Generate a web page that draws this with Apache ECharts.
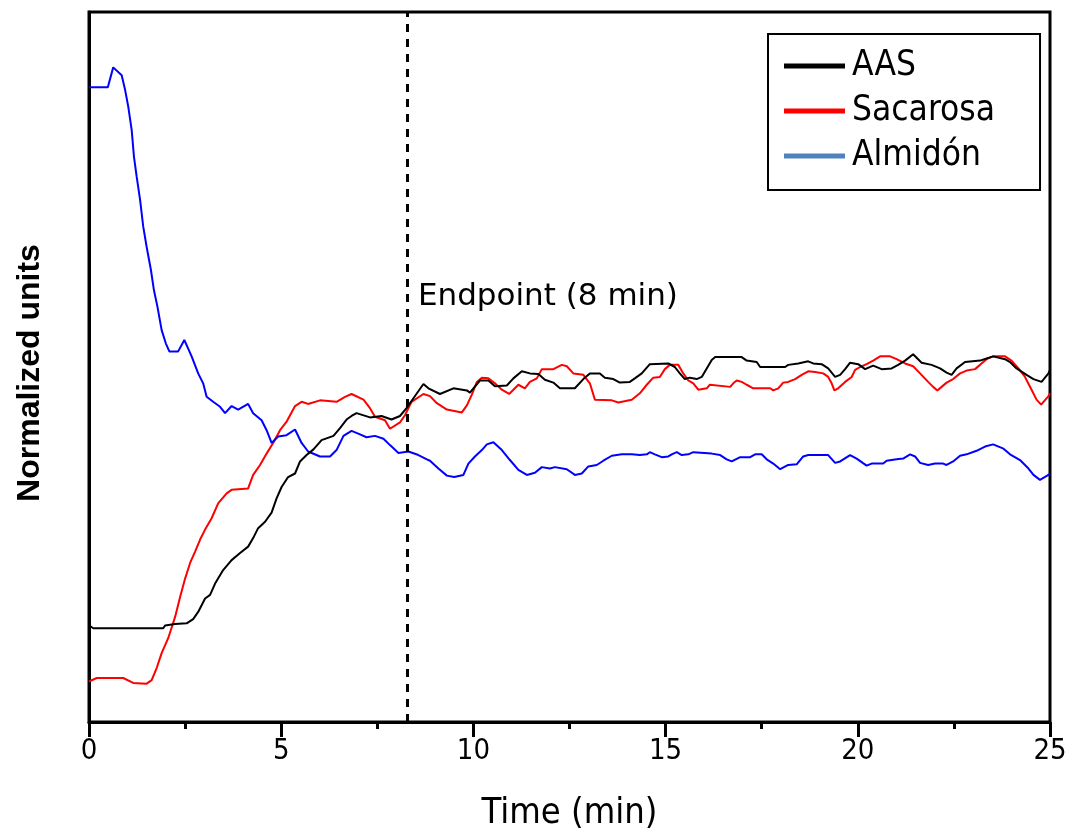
<!DOCTYPE html>
<html>
<head>
<meta charset="utf-8">
<title>Normalized units vs time</title>
<script src="https://cdn.jsdelivr.net/npm/echarts@6/dist/echarts.min.js"></script>
<style>
  html, body { margin: 0; padding: 0; background: #ffffff; }
  #chart { width: 1068px; height: 830px; }
</style>
</head>
<body>
<div id="chart"></div>
<script>
// Time axis (min) and normalized signal for each sample
const aasTime = [0, 0.11, 1.93, 1.98, 2.24, 2.54, 2.71, 2.84, 3.02, 3.15,
  3.28, 3.49, 3.71, 3.93, 4.14, 4.27, 4.40, 4.58, 4.75, 4.88,
  5.01, 5.18, 5.36, 5.49, 5.66, 5.84, 6.05, 6.36, 6.53, 6.70,
  6.83, 6.96, 7.31, 7.61, 7.87, 8.09, 8.26, 8.44, 8.70, 8.83,
  9.13, 9.48, 9.83, 9.91, 10.17, 10.39, 10.56, 10.87, 11.04, 11.26,
  11.47, 11.69, 11.86, 12.08, 12.25, 12.64, 12.86, 13.03, 13.29, 13.42,
  13.64, 13.81, 14.07, 14.20, 14.38, 14.59, 15.07, 15.24, 15.37, 15.50,
  15.63, 15.81, 15.94, 16.07, 16.20, 16.29, 16.98, 17.11, 17.37, 17.46,
  18.11, 18.19, 18.45, 18.71, 18.84, 19.06, 19.23, 19.41, 19.54, 19.67,
  19.80, 20.01, 20.19, 20.40, 20.62, 20.88, 21.05, 21.23, 21.44, 21.66,
  21.92, 22.14, 22.31, 22.44, 22.57, 22.79, 23.18, 23.35, 23.52, 23.83,
  23.96, 24.13, 24.39, 24.57, 24.78, 24.96, 25];
const aasValue = [13.6, 13.2, 13.2, 13.6, 13.8, 13.9, 14.5, 15.5, 17.4, 17.9,
  19.5, 21.4, 22.8, 23.8, 24.7, 25.9, 27.3, 28.2, 29.5, 31.5,
  33.1, 34.5, 35.0, 36.7, 37.6, 38.4, 39.7, 40.3, 41.4, 42.6,
  43.1, 43.5, 42.9, 43.1, 42.6, 43.1, 44.2, 45.6, 47.6, 47.0,
  46.2, 47.0, 46.7, 46.4, 48.1, 48.1, 47.3, 47.4, 48.4, 49.4,
  49.1, 49.0, 48.2, 47.8, 47.0, 47.0, 48.3, 49.1, 49.1, 48.5,
  48.3, 47.8, 47.9, 48.4, 49.1, 50.4, 50.5, 50.0, 49.1, 48.3,
  48.5, 48.3, 48.6, 49.8, 51.0, 51.4, 51.4, 50.9, 50.7, 50.0,
  50.0, 50.3, 50.5, 50.8, 50.5, 50.4, 49.8, 48.6, 48.9, 49.7,
  50.6, 50.4, 49.7, 50.2, 49.7, 49.8, 50.3, 50.9, 51.8, 50.6,
  50.3, 49.8, 49.2, 48.9, 49.8, 50.7, 50.9, 51.2, 51.5, 51.1,
  50.7, 49.8, 48.9, 48.3, 47.9, 49.1, 49.6];

const sacarosaTime = [0, 0.20, 0.89, 1.15, 1.50, 1.63, 1.76, 1.89, 2.06, 2.24,
  2.37, 2.50, 2.63, 2.76, 2.89, 3.02, 3.19, 3.36, 3.58, 3.71,
  4.14, 4.27, 4.45, 4.62, 4.79, 4.97, 5.14, 5.36, 5.53, 5.70,
  6.01, 6.44, 6.66, 6.83, 7.14, 7.31, 7.44, 7.70, 7.83, 8.09,
  8.22, 8.39, 8.70, 8.87, 9.05, 9.31, 9.70, 9.83, 9.96, 10.09,
  10.22, 10.39, 10.56, 10.74, 10.93, 11.17, 11.34, 11.47, 11.65, 11.78,
  12.08, 12.30, 12.43, 12.60, 12.86, 13.03, 13.16, 13.60, 13.77, 14.12,
  14.33, 14.38, 14.51, 14.68, 14.85, 14.98, 15.11, 15.33, 15.46, 15.59,
  15.72, 15.85, 16.07, 16.15, 16.68, 16.76, 16.85, 16.98, 17.11, 17.28,
  17.72, 17.80, 17.93, 18.06, 18.19, 18.37, 18.54, 18.71, 18.89, 19.10,
  19.23, 19.32, 19.39, 19.49, 19.67, 19.84, 19.93, 20.06, 20.23, 20.40,
  20.58, 20.84, 21.01, 21.23, 21.44, 21.62, 21.83, 21.96, 22.07, 22.18,
  22.31, 22.48, 22.66, 22.83, 23.05, 23.18, 23.35, 23.52, 23.83, 24.00,
  24.18, 24.35, 24.52, 24.65, 24.77, 24.96, 25];
const sacarosaValue = [5.7, 6.2, 6.2, 5.5, 5.4, 5.9, 7.6, 9.7, 11.8, 14.8,
  17.6, 20.2, 22.4, 24.0, 25.7, 27.1, 28.7, 30.8, 32.2, 32.7,
  32.9, 34.8, 36.2, 37.8, 39.3, 41.1, 42.3, 44.5, 45.1, 44.8,
  45.3, 45.1, 45.8, 46.2, 45.4, 44.2, 43.0, 42.5, 41.3, 42.2,
  43.2, 45.1, 46.2, 45.9, 44.9, 44.0, 43.6, 44.6, 46.1, 47.9,
  48.5, 48.4, 47.7, 46.8, 46.2, 47.5, 47.0, 47.9, 48.4, 49.7,
  49.7, 50.3, 50.1, 49.1, 48.9, 47.7, 45.4, 45.3, 45.0, 45.4,
  46.3, 46.5, 47.5, 48.5, 48.6, 49.7, 50.3, 50.3, 49.1, 48.1,
  47.7, 46.8, 47.0, 47.5, 47.2, 47.7, 48.1, 47.9, 47.5, 47.0,
  47.0, 46.7, 47.0, 47.8, 47.9, 48.3, 48.9, 49.4, 49.3, 49.1,
  48.6, 47.7, 46.7, 47.0, 47.9, 48.6, 49.6, 50.0, 50.4, 50.9,
  51.5, 51.5, 51.1, 50.5, 50.1, 49.1, 47.9, 47.2, 46.7, 47.2,
  47.8, 48.3, 49.1, 49.5, 49.7, 50.3, 51.1, 51.5, 51.5, 50.9,
  49.8, 48.6, 46.8, 45.4, 44.7, 45.9, 46.3];

const almidonTime = [0, 0.49, 0.63, 0.85, 0.94, 1.02, 1.11, 1.17, 1.24, 1.33,
  1.41, 1.50, 1.61, 1.69, 1.78, 1.89, 2.00, 2.09, 2.32, 2.48,
  2.58, 2.67, 2.84, 2.97, 3.06, 3.23, 3.41, 3.54, 3.71, 3.88,
  4.14, 4.27, 4.49, 4.62, 4.75, 4.92, 5.14, 5.36, 5.53, 5.70,
  6.01, 6.27, 6.44, 6.62, 6.83, 7.05, 7.22, 7.44, 7.66, 7.83,
  8.05, 8.31, 8.57, 8.79, 8.87, 9.09, 9.31, 9.50, 9.74, 9.87,
  10.04, 10.22, 10.35, 10.52, 10.74, 10.95, 11.17, 11.39, 11.60, 11.78,
  11.99, 12.12, 12.43, 12.64, 12.82, 12.99, 13.21, 13.38, 13.60, 13.86,
  14.12, 14.33, 14.51, 14.59, 14.72, 14.90, 15.07, 15.16, 15.29, 15.42,
  15.59, 15.72, 16.20, 16.42, 16.59, 16.72, 16.94, 17.20, 17.33, 17.50,
  17.63, 17.80, 17.98, 18.19, 18.41, 18.58, 18.71, 19.23, 19.41, 19.54,
  19.80, 19.97, 20.23, 20.36, 20.66, 20.75, 21.01, 21.18, 21.36, 21.49,
  21.62, 21.83, 22.01, 22.22, 22.31, 22.48, 22.66, 22.83, 23.09, 23.31,
  23.52, 23.79, 23.96, 24.22, 24.44, 24.57, 24.74, 24.96, 25];
const almidonValue = [89.4, 89.4, 92.2, 91.1, 89.0, 86.7, 83.4, 79.6, 76.8, 73.5,
  69.8, 66.9, 63.7, 60.8, 58.5, 55.2, 53.3, 52.2, 52.2, 53.8,
  52.6, 51.5, 49.1, 47.7, 45.8, 45.1, 44.4, 43.5, 44.5, 44.0,
  44.8, 43.5, 42.5, 41.1, 39.3, 40.2, 40.4, 41.2, 39.3, 38.1,
  37.4, 37.4, 38.3, 40.3, 41.0, 40.5, 40.1, 40.3, 39.9, 39.0,
  37.9, 38.1, 37.6, 37.0, 36.8, 35.7, 34.7, 34.5, 34.8, 36.4,
  37.4, 38.3, 39.1, 39.4, 38.3, 36.9, 35.5, 34.8, 35.1, 35.9,
  35.7, 35.9, 35.6, 34.8, 35.0, 36.0, 36.2, 36.8, 37.5, 37.7,
  37.7, 37.6, 37.7, 38.0, 37.7, 37.3, 37.4, 37.7, 38.0, 37.6,
  37.7, 38.0, 37.8, 37.6, 37.0, 36.7, 37.3, 37.3, 37.7, 37.7,
  37.0, 36.4, 35.6, 36.2, 36.3, 37.4, 37.6, 37.6, 36.5, 36.7,
  37.6, 37.1, 36.1, 36.4, 36.4, 36.8, 37.0, 37.1, 37.7, 37.4,
  36.5, 36.2, 36.4, 36.4, 36.2, 36.7, 37.5, 37.7, 38.2, 38.8,
  39.1, 38.5, 37.7, 36.9, 35.7, 34.8, 34.1, 34.8, 35.0];

const seriesNames = ['AAS', 'Sacarosa', 'Almidón'];
const endpointTime = 8.27;
const endpointText = 'Endpoint (8 min)';

const zip = (t, v) => t.map((x, i) => [x, v[i]]);

const narrow = "'Liberation Sans Narrow', 'DejaVu Sans Condensed', 'Liberation Sans', sans-serif";

const chart = echarts.init(document.getElementById('chart'), null, { renderer: 'canvas' });

chart.setOption({
  animation: false,
  backgroundColor: '#ffffff',
  grid: {
    left: 89, right: 18, top: 12, bottom: 108,
    outerBoundsMode: 'none',
    containLabel: false,
    show: true, borderColor: '#000', borderWidth: 3, backgroundColor: 'transparent'
  },
  legend: {
    orient: 'vertical',
    left: 768, top: 34,
    padding: [12, 45, 14, 16],
    borderColor: '#000', borderWidth: 2, borderRadius: 0,
    backgroundColor: '#fff',
    icon: 'rect',
    itemWidth: 61, itemHeight: 5, itemGap: 5,
    textStyle: {
      fontFamily: "'DejaVu Sans Condensed', 'DejaVu Sans', sans-serif",
      fontSize: 35, color: '#000', lineHeight: 40, padding: [0, 0, 0, 2]
    },
    data: [
      { name: seriesNames[0] },
      { name: seriesNames[1] },
      { name: seriesNames[2], itemStyle: { color: '#4f81bd' } }
    ]
  },
  xAxis: {
    type: 'value', min: 0, max: 25, interval: 5,
    name: 'Time (min)', nameLocation: 'middle', nameGap: 74,
    nameTextStyle: { fontFamily: narrow, fontSize: 36, color: '#000' },
    axisLine: { show: true, onZero: false, lineStyle: { color: '#000', width: 3 } },
    axisTick: { show: true, length: 15, lineStyle: { color: '#000', width: 3 } },
    minorTick: { show: true, splitNumber: 2, length: 7, lineStyle: { color: '#000', width: 3 } },
    axisLabel: { fontFamily: narrow, fontSize: 29, color: '#000', margin: 15 },
    splitLine: { show: false }
  },
  yAxis: {
    type: 'value', min: 0, max: 100,
    name: 'Normalized units', nameLocation: 'middle', nameGap: 43,
    nameTextStyle: {
      fontFamily: "'Liberation Sans', Arial, sans-serif", fontWeight: 'bold',
      fontSize: 32, color: '#000', padding: [0, 12, 0, 0]
    },
    axisLine: { show: true, lineStyle: { color: '#000', width: 3 } },
    axisTick: { show: false },
    axisLabel: { show: false },
    splitLine: { show: false }
  },
  series: [
    {
      name: seriesNames[0], type: 'line', data: zip(aasTime, aasValue),
      showSymbol: false, symbol: 'none', z: 3,
      lineStyle: { color: '#000000', width: 2 }, itemStyle: { color: '#000000' },
      markLine: {
        silent: true, symbol: ['none', 'none'],
        label: { show: false },
        lineStyle: { color: '#000', width: 3, type: [8, 7] },
        data: [{ xAxis: endpointTime }]
      },
      markPoint: {
        silent: true,
        data: [{
          coord: [endpointTime, 59.9], symbolSize: 0,
          label: {
            show: true, position: 'right', distance: 11, formatter: endpointText,
            fontFamily: "'DejaVu Sans', sans-serif", fontSize: 31, color: '#000'
          }
        }]
      }
    },
    {
      name: seriesNames[1], type: 'line', data: zip(sacarosaTime, sacarosaValue),
      showSymbol: false, symbol: 'none', z: 2,
      lineStyle: { color: '#ff0000', width: 2 }, itemStyle: { color: '#ff0000' }
    },
    {
      name: seriesNames[2], type: 'line', data: zip(almidonTime, almidonValue),
      showSymbol: false, symbol: 'none', z: 2,
      lineStyle: { color: '#0000ff', width: 2 }, itemStyle: { color: '#0000ff' }
    }
  ]
});
</script>
</body>
</html>
